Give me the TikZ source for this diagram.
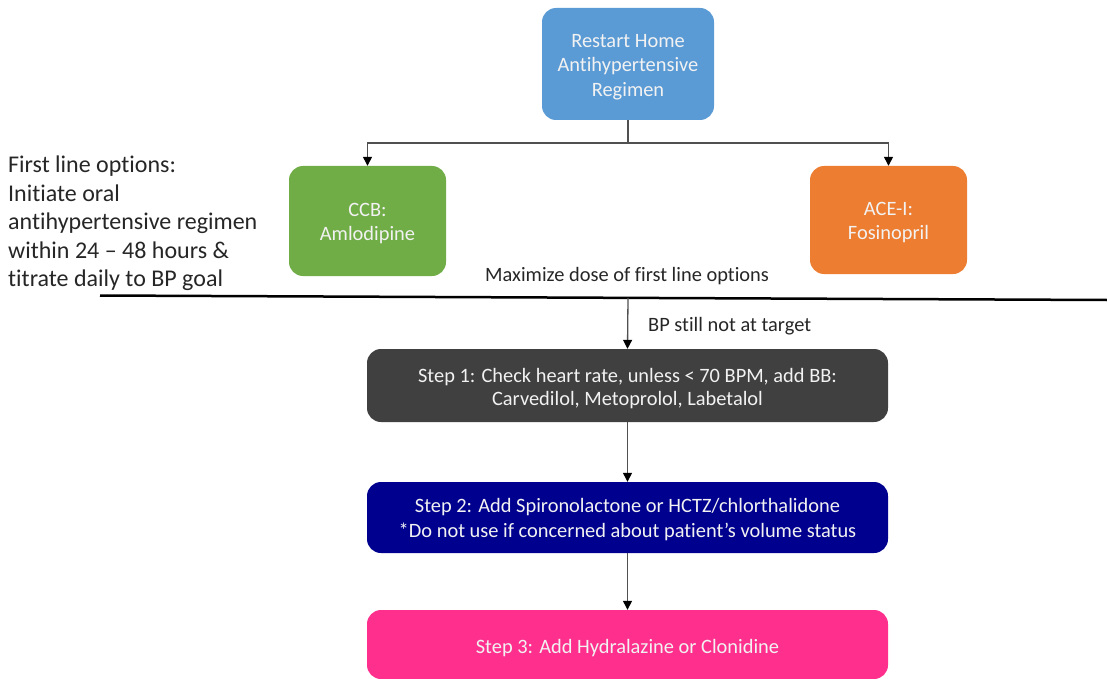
\documentclass[tikz,border=0pt]{standalone}
\usepackage{fontspec}
\setmainfont{Carlito}[Ligatures=NoCommon]
\usetikzlibrary{arrows.meta}
\definecolor{cblue}{HTML}{5B9BD5}
\definecolor{cgreen}{HTML}{70AD47}
\definecolor{corange}{HTML}{ED7D31}
\definecolor{cgray}{HTML}{404040}
\definecolor{cnavy}{HTML}{00008F}
\definecolor{cpink}{HTML}{FF2F8E}
\definecolor{ctext}{HTML}{F2F2F2}
\definecolor{cline}{HTML}{505050}
\tikzset{
  box/.style={rectangle, rounded corners=14pt, inner sep=0pt},
  boxtext/.style={inner sep=0pt, align=center, text=ctext, font=\fontsize{20.4}{24.5}\selectfont},
  conn/.style={draw=cline, line width=1.3pt, -{Triangle[width=9pt,length=9pt,color=black]}},
  plain/.style={draw=cline, line width=1.3pt},
  note/.style={inner sep=0pt, text=black!85, font=\fontsize{20.4}{24}\selectfont}
}
\begin{document}
\begin{tikzpicture}[x=1pt,y=-1pt]
\useasboundingbox (0,0) rectangle (1107,679);
\node[box, fill=cblue, minimum width=172pt, minimum height=112pt] (top) at (628,64) {};
\node[box, fill=cgreen, minimum width=157pt, minimum height=110pt] (ccb) at (367.5,221) {};
\node[box, fill=corange, minimum width=157pt, minimum height=108pt] (ace) at (888.5,220) {};
\node[box, fill=cgray, minimum width=521pt, minimum height=73pt] (s1) at (627.5,385.5) {};
\node[box, fill=cnavy, minimum width=521pt, minimum height=71pt] (s2) at (627.5,517.5) {};
\node[box, fill=cpink, minimum width=521pt, minimum height=69pt] (s3) at (627.5,644.5) {};
\node[boxtext] (toptext) at ([yshift=-3pt]top.center) {Restart Home\\Antihypertensive\\Regimen};
\node[boxtext] (ccbtext) at ([yshift=-2.5pt]ccb.center) {CCB:\\Amlodipine};
\node[boxtext] (acetext) at ([yshift=-2.5pt]ace.center) {ACE-I:\\Fosinopril};
\node[boxtext, font=\fontsize{20.4}{22.5}\selectfont] (s1text) at ([yshift=-3pt]s1.center)
  {Step 1: Check heart rate, unless < 70 BPM, add BB:\\Carvedilol, Metoprolol, Labetalol};
\node[boxtext] (s2text) at ([yshift=-2pt]s2.center)
  {Step 2: Add Spironolactone or HCTZ/chlorthalidone\\*Do not use if concerned about patient’s volume status};
\node[boxtext] (s3text) at ([yshift=-3.5pt]s3.center) {Step 3: Add Hydralazine or Clonidine};
\node[note, anchor=north west, align=left, font=\fontsize{24}{28.5}\selectfont] (left) at (8,156)
  {First line options:\\Initiate oral\\antihypertensive regimen\\within 24 – 48 hours \&\\titrate daily to BP goal};
\node[note, anchor=base west] (max) at (485,281) {Maximize dose of first line options};
\node[note, anchor=base west] (bp) at (648,331) {BP still not at target};
\coordinate (jn) at (628,143);
\coordinate (dl) at (100,295.5);
\coordinate (dr) at (1107,300);
\coordinate (dm) at (628,298);
\draw[plain] (top.south) -- (jn);
\draw[conn] (jn) -| (ccb.north);
\draw[conn] (jn) -| (ace.north);
\draw[line width=2.5pt, black] (dl) -- (dr);
\draw[conn] (dm) -- (s1.north);
\draw[conn] (s1.south) -- (s2.north);
\draw[conn] (s2.south) -- (s3.north);
\end{tikzpicture}
\end{document}
